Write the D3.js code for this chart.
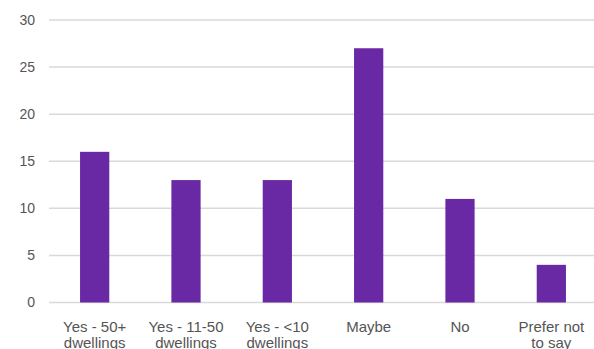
<!DOCTYPE html>
<html>
<head>
<meta charset="utf-8">
<script src="https://cdn.jsdelivr.net/npm/d3@7"></script>
<style>
  body { margin: 0; background: #fff; }
  svg { display: block; font-family: "Liberation Sans", Arial, sans-serif; }
  .grid line { stroke: #d9d9d9; stroke-width: 1.5; }
  .tick text { fill: #555; font-size: 14px; }
  .cat text { fill: #555; font-size: 15px; }
</style>
</head>
<body>
<svg width="594" height="349"></svg>
<script>
// data
var categories = [["Yes - 50+", "dwellings"], ["Yes - 11-50", "dwellings"], ["Yes - <10", "dwellings"], ["Maybe"], ["No"], ["Prefer not", "to say"]];
var values = [16, 13, 13, 27, 11, 4];
var yTicks = [0, 5, 10, 15, 20, 25, 30];

var svg = d3.select("svg"),
    plotLeft = 49, plotRight = 597, plotTop = 20, plotBottom = 302.5;

var x = d3.scaleBand().domain(d3.range(values.length)).range([plotLeft, plotRight]).paddingInner(0.68).paddingOuter(0.34),
    y = d3.scaleLinear().domain([0, 30]).range([plotBottom, plotTop]);

// gridlines
svg.append("g").attr("class", "grid")
  .selectAll("line").data(yTicks).enter().append("line")
    .attr("x1", plotLeft).attr("x2", 594)
    .attr("y1", function(d) { return y(d); })
    .attr("y2", function(d) { return y(d); });

// y labels
svg.append("g").attr("class", "tick")
  .selectAll("text").data(yTicks).enter().append("text")
    .attr("x", 35)
    .attr("y", function(d) { return y(d); })
    .attr("dy", "0.35em")
    .attr("text-anchor", "end")
    .text(function(d) { return d; });

// bars
svg.selectAll(".bar").data(values).enter().append("rect")
    .attr("class", "bar")
    .attr("fill", "#6928a4")
    .attr("x", function(d, i) { return x(i); })
    .attr("y", function(d) { return y(d); })
    .attr("width", x.bandwidth())
    .attr("height", function(d) { return plotBottom - y(d); });

// category labels
var lab = svg.append("g").attr("class", "cat")
  .selectAll("text").data(categories).enter().append("text")
    .attr("text-anchor", "middle")
    .attr("transform", function(d, i) { return "translate(" + (x(i) + x.bandwidth() / 2) + ",332)"; });
lab.selectAll("tspan").data(function(d) { return d; }).enter().append("tspan")
    .attr("x", 0)
    .attr("dy", function(d, j) { return j ? "16" : "0"; })
    .text(function(d) { return d; });
</script>
</body>
</html>
